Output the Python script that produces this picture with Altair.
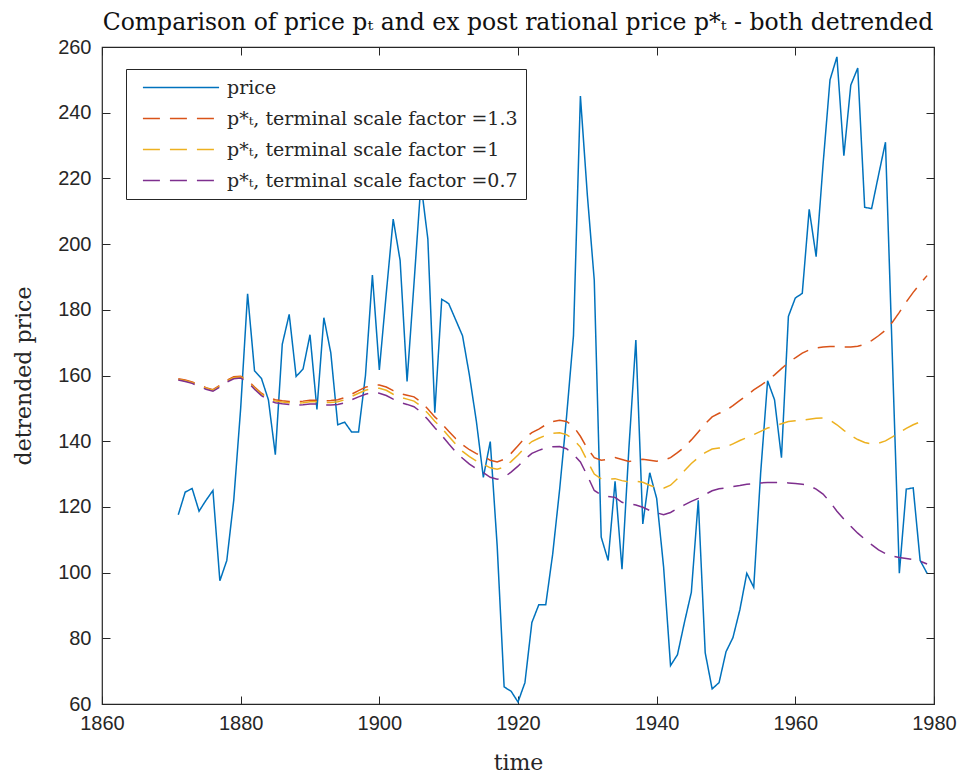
import altair as alt
import pandas as pd

years = list(range(1871, 1980))

price = [
    117.6, 124.5, 125.6, 118.7, 122.0, 125.0, 97.5, 103.7, 122.0, 150.0,
    184.9, 161.4, 159.1, 152.6, 135.9, 169.5, 178.6, 159.7, 162.0, 172.4,
    149.7, 177.6, 166.9, 145.0, 145.8, 142.8, 142.8, 160.0, 190.6, 161.7,
    185.0, 207.6, 195.0, 158.2, 188.0, 218.5, 201.5, 148.7, 183.2, 181.9,
    177.0, 172.1, 160.0, 146.0, 129.0, 139.9, 108.0, 65.2, 63.9, 60.6,
    66.5, 84.8, 90.2, 90.2, 105.6, 125.2, 147.4, 172.1, 245.1, 215.0,
    189.0, 110.8, 103.7, 127.8, 101.0, 138.0, 170.8, 114.8, 130.4, 122.6,
    101.7, 71.7, 75.0, 84.8, 94.0, 122.0, 75.6, 64.6, 66.5, 75.9,
    80.2, 88.7, 99.8, 95.5, 130.4, 158.4, 152.6, 135.0, 178.0, 183.6,
    185.0, 210.6, 196.2, 224.3, 250.0, 257.0, 226.9, 248.4, 253.6, 211.2,
    210.8, 221.0, 231.0, 165.0, 99.8, 125.4, 125.8, 103.7, 99.8,
]

pstar_13 = [
    159.0, 158.6, 158.0, 157.2, 156.3, 155.7, 157.0, 158.5, 159.6, 159.8,
    158.6, 156.5, 154.6, 153.3, 152.6, 152.3, 152.1, 152.0, 152.2, 152.5,
    152.5, 152.3, 152.4, 152.6, 153.3, 154.3, 155.4, 156.4, 157.0, 157.1,
    156.5, 155.4, 154.5, 154.0, 153.5, 152.0, 149.8, 147.4, 145.4, 143.0,
    140.8, 138.9, 137.4, 136.2, 135.4, 134.2, 133.7, 134.5, 136.3, 138.6,
    141.0, 142.6, 143.7, 145.0, 146.0, 146.4, 146.0, 144.5, 141.5, 137.8,
    135.0, 134.2, 134.5, 135.0, 134.4, 133.8, 134.2, 134.5, 134.2, 133.9,
    134.2, 135.0, 136.5, 138.2, 140.4, 142.8, 145.3, 147.4, 148.5, 149.3,
    150.8, 152.4, 154.0, 155.6, 157.0, 158.4, 160.2, 162.1, 163.9, 165.4,
    166.8, 167.8, 168.4, 168.7, 168.8, 168.8, 168.7, 168.7, 168.9, 169.5,
    170.6, 172.1, 173.8, 176.2, 179.2, 182.4, 185.3, 187.9, 190.4,
]

pstar_10 = [
    158.8, 158.4, 157.8, 157.0, 156.1, 155.5, 156.8, 158.3, 159.3, 159.5,
    158.3, 156.2, 154.3, 153.0, 152.2, 151.9, 151.7, 151.6, 151.7, 152.0,
    152.0, 151.8, 151.8, 152.0, 152.6, 153.6, 154.6, 155.5, 156.1, 156.1,
    155.5, 154.3, 153.4, 152.8, 152.2, 150.7, 148.5, 146.1, 144.0, 141.5,
    139.1, 136.9, 135.3, 134.0, 133.0, 131.9, 131.5, 132.1, 133.8, 135.8,
    138.1, 139.9, 140.9, 141.8, 142.4, 142.6, 142.0, 140.5, 138.2, 134.0,
    130.0, 128.5, 128.4, 128.6, 128.0, 127.6, 127.8, 127.5, 126.6, 125.8,
    125.7, 126.6, 128.6, 131.0, 133.2, 135.0, 136.5, 137.6, 137.9, 138.2,
    139.2, 140.2, 141.1, 142.0, 143.0, 144.0, 144.6, 145.3, 146.0, 146.2,
    146.4, 146.7, 147.0, 147.1, 146.4, 145.0, 143.3, 141.7, 140.5, 139.6,
    139.2, 139.4, 140.1, 141.3, 142.6, 143.9, 145.0, 145.9, 146.6,
]

pstar_07 = [
    158.6, 158.2, 157.6, 156.7, 155.8, 155.2, 156.5, 158.0, 159.0, 159.2,
    158.0, 155.8, 153.9, 152.5, 151.7, 151.4, 151.2, 151.0, 151.1, 151.3,
    151.3, 151.0, 151.0, 151.2, 151.7, 152.6, 153.5, 154.3, 154.8, 154.6,
    153.9, 152.8, 151.8, 151.2, 150.5, 148.9, 146.6, 144.1, 141.8, 139.2,
    136.8, 134.8, 133.0, 131.6, 130.4, 129.0, 128.4, 129.0, 130.6, 132.4,
    134.5, 136.3, 137.2, 138.0, 138.3, 138.4, 137.7, 136.0, 133.7, 129.5,
    125.0, 123.6, 123.2, 122.9, 121.4, 120.9, 120.6, 119.9, 118.9, 118.2,
    117.6, 118.3, 119.5, 120.6, 121.7, 122.6, 123.8, 124.9, 125.5, 125.8,
    126.2, 126.5, 126.9, 127.1, 127.3, 127.4, 127.4, 127.4, 127.3, 127.1,
    126.9, 126.5, 125.4, 123.9, 121.5, 118.7, 116.3, 114.1, 112.0, 110.2,
    108.5, 106.9, 105.8, 105.0, 104.6, 104.3, 104.0, 103.5, 102.6,
]

series_names = [
    "price",
    "p*ₜ, terminal scale factor =1.3",
    "p*ₜ, terminal scale factor =1",
    "p*ₜ, terminal scale factor =0.7",
]
series_values = [price, pstar_13, pstar_10, pstar_07]
series_colors = ["#0072BD", "#D95319", "#EDB120", "#7E2F8E"]
series_dashes = [[1, 0], [17, 10], [17, 10], [17, 10]]

x_ticks = [1860, 1880, 1900, 1920, 1940, 1960, 1980]
y_ticks = [60, 80, 100, 120, 140, 160, 180, 200, 220, 240, 260]

rows = []
for name, vals in zip(series_names, series_values):
    for yr, v in zip(years, vals):
        rows.append({"year": yr, "value": v, "series": name})
df = pd.DataFrame(rows)
df_price = pd.DataFrame({"year": years, "value": price})

AX = "#262626"
SANS = "Liberation Sans"
SERIF = "DejaVu Serif"

xscale = alt.Scale(domain=[1860, 1980], nice=False, zero=False)
yscale = alt.Scale(domain=[60, 260], nice=False, zero=False)

lines = alt.Chart(df).mark_line(strokeWidth=1.5, clip=True).encode(
    x=alt.X("year:Q", scale=xscale, title="time",
            axis=alt.Axis(orient="bottom", values=x_ticks, format="d",
                          offset=-8, tickSize=8, domain=False, grid=False,
                          labelPadding=9, labelFont=SANS, labelFontSize=20,
                          labelColor=AX, tickColor=AX, tickWidth=1,
                          titleFont=SERIF, titleFontSize=22, titleFontWeight="normal",
                          titleColor=AX, titlePadding=19, labelFlush=False)),
    y=alt.Y("value:Q", scale=yscale, title="detrended price",
            axis=alt.Axis(orient="left", values=y_ticks,
                          offset=-8, tickSize=8, domain=False, grid=False,
                          labelPadding=11, labelFont=SANS, labelFontSize=20,
                          labelColor=AX, tickColor=AX, tickWidth=1,
                          titleFont=SERIF, titleFontSize=22, titleFontWeight="normal",
                          titleColor=AX, titlePadding=22, labelFlush=False)),
    color=alt.Color("series:N",
                    scale=alt.Scale(domain=series_names, range=series_colors),
                    sort=series_names,
                    legend=alt.Legend(title=None, orient="none", legendX=24, legendY=22,
                                      fillColor="white", strokeColor=AX,
                                      padding=8, symbolType="stroke",
                                      symbolSize=5800, symbolStrokeWidth=1.5,
                                      symbolOffset=8, clipHeight=21,
                                      labelFont=SERIF, labelFontSize=19,
                                      labelColor=AX, rowPadding=10,
                                      labelOffset=7, labelLimit=500)),
    strokeDash=alt.StrokeDash("series:N",
                              scale=alt.Scale(domain=series_names, range=series_dashes),
                              sort=series_names, legend=None),
    order="year:Q",
)

frame_axes = alt.Chart(df_price).mark_line(opacity=0).encode(
    x=alt.X("year:Q", scale=xscale,
            axis=alt.Axis(orient="top", values=x_ticks, labels=False, title=None,
                          offset=-8, tickSize=8, domain=False, grid=False,
                          tickColor=AX, tickWidth=1)),
    y=alt.Y("value:Q", scale=yscale,
            axis=alt.Axis(orient="right", values=y_ticks, labels=False, title=None,
                          offset=-8, tickSize=8, domain=False, grid=False,
                          tickColor=AX, tickWidth=1)),
)

chart = alt.layer(lines, frame_axes).resolve_axis(
    x="independent", y="independent"
).properties(
    width=832,
    height=657,
    padding={"left": 94, "top": 39, "right": 23, "bottom": 70},
    autosize=alt.AutoSizeParams(type="none"),
    title=alt.TitleParams(
        "Comparison of price pₜ and ex post rational price p*ₜ - both detrended",
        font=SERIF, fontSize=23.5, fontWeight="normal", color="#111111",
        anchor="middle", offset=3,
    ),
    background="white",
).configure_view(
    stroke=AX, strokeWidth=1.2
)

chart.save("out.html", embed_options={"renderer": "svg", "actions": False})
